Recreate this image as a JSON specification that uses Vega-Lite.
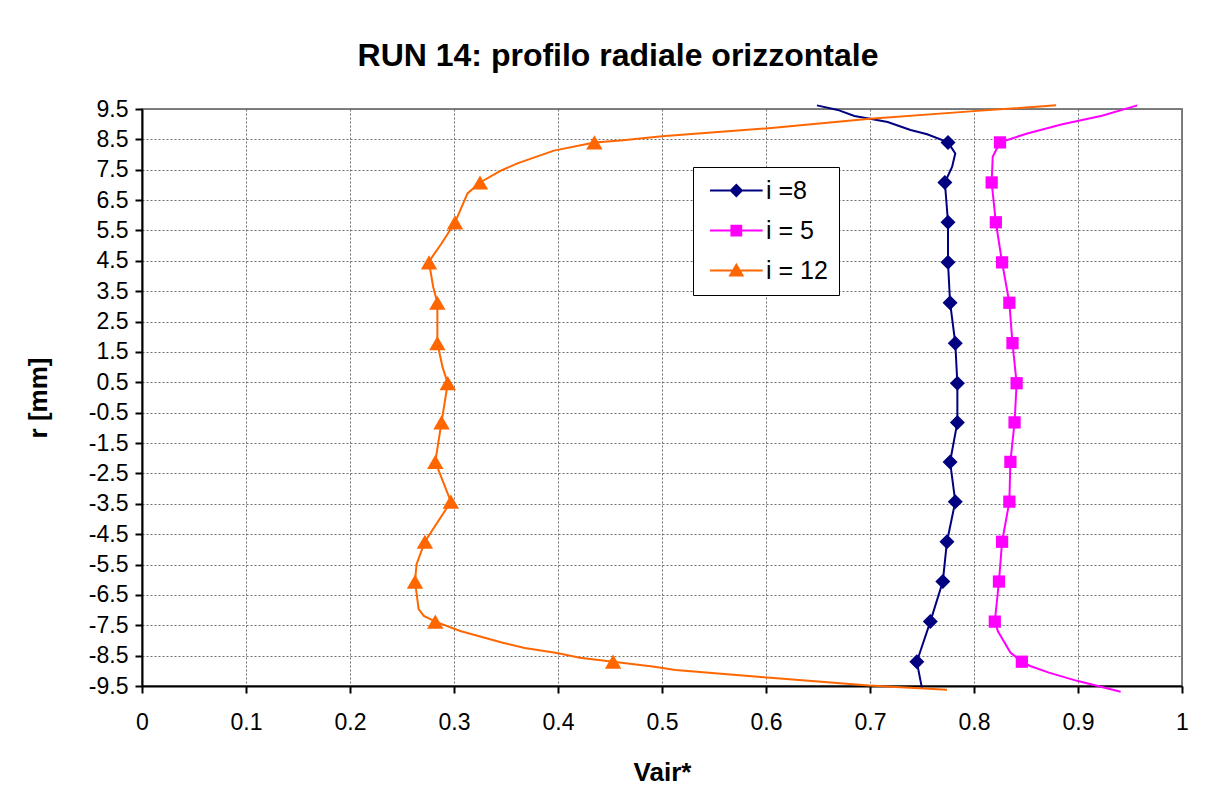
{
  "$schema": "https://vega.github.io/schema/vega-lite/v6.json",
  "autosize": "none",
  "width": 1040,
  "height": 577,
  "padding": {"left": 142, "top": 109, "right": 38, "bottom": 122},
  "background": "white",
  "title": {
    "text": "RUN 14: profilo radiale orizzontale",
    "font": "Liberation Sans",
    "fontSize": 32,
    "fontWeight": "bold",
    "color": "black",
    "anchor": "middle",
    "frame": "group",
    "dx": -44,
    "offset": 25
  },
  "data": {
    "values": [
      {"s": "i =8", "r": 9.62, "v": 0.649, "m": 0},
      {"s": "i =8", "r": 9.47, "v": 0.669, "m": 0},
      {"s": "i =8", "r": 9.27, "v": 0.685, "m": 0},
      {"s": "i =8", "r": 9.18, "v": 0.7, "m": 0},
      {"s": "i =8", "r": 9.07, "v": 0.717, "m": 0},
      {"s": "i =8", "r": 8.81, "v": 0.739, "m": 0},
      {"s": "i =8", "r": 8.67, "v": 0.755, "m": 0},
      {"s": "i =8", "r": 8.4, "v": 0.775, "m": 1},
      {"s": "i =8", "r": 8.04, "v": 0.782, "m": 0},
      {"s": "i =8", "r": 7.6, "v": 0.779, "m": 0},
      {"s": "i =8", "r": 7.08, "v": 0.772, "m": 1},
      {"s": "i =8", "r": 5.77, "v": 0.775, "m": 1},
      {"s": "i =8", "r": 4.45, "v": 0.775, "m": 1},
      {"s": "i =8", "r": 3.12, "v": 0.777, "m": 1},
      {"s": "i =8", "r": 1.79, "v": 0.782, "m": 1},
      {"s": "i =8", "r": 0.47, "v": 0.784, "m": 1},
      {"s": "i =8", "r": -0.82, "v": 0.784, "m": 1},
      {"s": "i =8", "r": -2.12, "v": 0.777, "m": 1},
      {"s": "i =8", "r": -3.43, "v": 0.782, "m": 1},
      {"s": "i =8", "r": -4.75, "v": 0.774, "m": 1},
      {"s": "i =8", "r": -6.06, "v": 0.77, "m": 1},
      {"s": "i =8", "r": -7.38, "v": 0.758, "m": 1},
      {"s": "i =8", "r": -8.7, "v": 0.745, "m": 1},
      {"s": "i =8", "r": -9.58, "v": 0.75, "m": 0},

      {"s": "i = 5", "r": 9.62, "v": 0.957, "m": 0},
      {"s": "i = 5", "r": 9.28, "v": 0.923, "m": 0},
      {"s": "i = 5", "r": 9.0, "v": 0.885, "m": 0},
      {"s": "i = 5", "r": 8.7, "v": 0.852, "m": 0},
      {"s": "i = 5", "r": 8.48, "v": 0.832, "m": 0},
      {"s": "i = 5", "r": 8.4, "v": 0.825, "m": 1},
      {"s": "i = 5", "r": 7.93, "v": 0.818, "m": 0},
      {"s": "i = 5", "r": 7.08, "v": 0.817, "m": 1},
      {"s": "i = 5", "r": 5.77, "v": 0.821, "m": 1},
      {"s": "i = 5", "r": 4.45, "v": 0.827, "m": 1},
      {"s": "i = 5", "r": 3.12, "v": 0.834, "m": 1},
      {"s": "i = 5", "r": 1.79, "v": 0.837, "m": 1},
      {"s": "i = 5", "r": 0.47, "v": 0.841, "m": 1},
      {"s": "i = 5", "r": -0.82, "v": 0.839, "m": 1},
      {"s": "i = 5", "r": -2.12, "v": 0.835, "m": 1},
      {"s": "i = 5", "r": -3.43, "v": 0.834, "m": 1},
      {"s": "i = 5", "r": -4.75, "v": 0.827, "m": 1},
      {"s": "i = 5", "r": -6.06, "v": 0.824, "m": 1},
      {"s": "i = 5", "r": -7.38, "v": 0.82, "m": 1},
      {"s": "i = 5", "r": -7.7, "v": 0.823, "m": 0},
      {"s": "i = 5", "r": -8.4, "v": 0.835, "m": 0},
      {"s": "i = 5", "r": -8.7, "v": 0.846, "m": 1},
      {"s": "i = 5", "r": -8.84, "v": 0.854, "m": 0},
      {"s": "i = 5", "r": -9.06, "v": 0.872, "m": 0},
      {"s": "i = 5", "r": -9.33, "v": 0.899, "m": 0},
      {"s": "i = 5", "r": -9.5, "v": 0.919, "m": 0},
      {"s": "i = 5", "r": -9.69, "v": 0.941, "m": 0},

      {"s": "i = 12", "r": 9.62, "v": 0.879, "m": 0},
      {"s": "i = 12", "r": 9.43, "v": 0.8, "m": 0},
      {"s": "i = 12", "r": 9.18, "v": 0.7, "m": 0},
      {"s": "i = 12", "r": 8.86, "v": 0.6, "m": 0},
      {"s": "i = 12", "r": 8.6, "v": 0.5, "m": 0},
      {"s": "i = 12", "r": 8.46, "v": 0.46, "m": 0},
      {"s": "i = 12", "r": 8.4, "v": 0.435, "m": 1},
      {"s": "i = 12", "r": 8.13, "v": 0.396, "m": 0},
      {"s": "i = 12", "r": 7.71, "v": 0.361, "m": 0},
      {"s": "i = 12", "r": 7.47, "v": 0.345, "m": 0},
      {"s": "i = 12", "r": 7.08, "v": 0.325, "m": 1},
      {"s": "i = 12", "r": 6.72, "v": 0.313, "m": 0},
      {"s": "i = 12", "r": 5.77, "v": 0.301, "m": 1},
      {"s": "i = 12", "r": 5.07, "v": 0.288, "m": 0},
      {"s": "i = 12", "r": 4.58, "v": 0.278, "m": 0},
      {"s": "i = 12", "r": 4.45, "v": 0.276, "m": 1},
      {"s": "i = 12", "r": 3.64, "v": 0.28, "m": 0},
      {"s": "i = 12", "r": 3.12, "v": 0.284, "m": 1},
      {"s": "i = 12", "r": 1.79, "v": 0.284, "m": 1},
      {"s": "i = 12", "r": 1.0, "v": 0.289, "m": 0},
      {"s": "i = 12", "r": 0.47, "v": 0.294, "m": 1},
      {"s": "i = 12", "r": -0.82, "v": 0.288, "m": 1},
      {"s": "i = 12", "r": -2.12, "v": 0.282, "m": 1},
      {"s": "i = 12", "r": -3.43, "v": 0.297, "m": 1},
      {"s": "i = 12", "r": -4.75, "v": 0.272, "m": 1},
      {"s": "i = 12", "r": -5.49, "v": 0.264, "m": 0},
      {"s": "i = 12", "r": -6.06, "v": 0.2625, "m": 1},
      {"s": "i = 12", "r": -6.97, "v": 0.266, "m": 0},
      {"s": "i = 12", "r": -7.19, "v": 0.271, "m": 0},
      {"s": "i = 12", "r": -7.38, "v": 0.282, "m": 1},
      {"s": "i = 12", "r": -7.69, "v": 0.306, "m": 0},
      {"s": "i = 12", "r": -7.88, "v": 0.326, "m": 0},
      {"s": "i = 12", "r": -8.07, "v": 0.346, "m": 0},
      {"s": "i = 12", "r": -8.25, "v": 0.368, "m": 0},
      {"s": "i = 12", "r": -8.41, "v": 0.399, "m": 0},
      {"s": "i = 12", "r": -8.57, "v": 0.421, "m": 0},
      {"s": "i = 12", "r": -8.7, "v": 0.453, "m": 1},
      {"s": "i = 12", "r": -8.86, "v": 0.491, "m": 0},
      {"s": "i = 12", "r": -8.97, "v": 0.513, "m": 0},
      {"s": "i = 12", "r": -9.21, "v": 0.598, "m": 0},
      {"s": "i = 12", "r": -9.48, "v": 0.699, "m": 0},
      {"s": "i = 12", "r": -9.62, "v": 0.774, "m": 0}
    ]
  },
  "encoding": {
    "x": {
      "field": "v", "type": "quantitative",
      "scale": {"domain": [0, 1], "nice": false, "zero": false},
      "axis": {
        "title": "Vair*",
        "values": [0, 0.1, 0.2, 0.3, 0.4, 0.5, 0.6, 0.7, 0.8, 0.9, 1],
        "format": ".1~f",
        "labelPadding": 18,
        "titlePadding": 25
      }
    },
    "y": {
      "field": "r", "type": "quantitative",
      "scale": {"domain": [-9.5, 9.5], "nice": false, "zero": false},
      "axis": {
        "title": "r [mm]",
        "values": [-9.5, -8.5, -7.5, -6.5, -5.5, -4.5, -3.5, -2.5, -1.5, -0.5, 0.5, 1.5, 2.5, 3.5, 4.5, 5.5, 6.5, 7.5, 8.5, 9.5],
        "format": ".1f",
        "labelExpr": "replace(datum.label, '\u2212', '-')",
        "labelPadding": 7,
        "titlePadding": 37
      }
    }
  },
  "layer": [
    {
      "mark": {"type": "line", "clip": false},
      "encoding": {
        "color": {
          "field": "s", "type": "nominal",
          "scale": {"domain": ["i =8", "i = 5", "i = 12"], "range": ["#000080", "#FF00FF", "#FF6600"]},
          "legend": null
        },
        "strokeWidth": {
          "field": "s", "type": "nominal",
          "scale": {"domain": ["i =8", "i = 5", "i = 12"], "range": [2, 2, 2.5]},
          "legend": null
        },
        "order": {"field": "r", "sort": "descending"}
      }
    },
    {
      "transform": [{"filter": "datum.m == 1 && datum.s == 'i =8'"}],
      "mark": {"type": "point", "filled": true, "opacity": 1, "clip": false, "shape": "diamond", "size": 225, "color": "#000080"}
    },
    {
      "transform": [{"filter": "datum.m == 1 && datum.s == 'i = 5'"}],
      "mark": {"type": "point", "filled": true, "opacity": 1, "clip": false, "shape": "square", "size": 150, "color": "#FF00FF"}
    },
    {
      "transform": [{"filter": "datum.m == 1 && datum.s == 'i = 12'"}],
      "mark": {"type": "point", "filled": true, "opacity": 1, "clip": false, "shape": "triangle-up", "size": 270, "color": "#FF6600"}
    },
    {
      "transform": [{"filter": "datum.m == 99"}],
      "mark": {"type": "point", "filled": true, "opacity": 1, "strokeWidth": 2},
      "encoding": {
        "shape": {
          "field": "s", "type": "nominal",
          "scale": {
            "domain": ["i =8", "i = 5", "i = 12"],
            "range": [
              "M-1,0H7.1M3.05,-0.85L3.9,0L3.05,0.85L2.2,0Z",
              "M-1,0H7.1M2.3,-0.75H3.8V0.75H2.3Z",
              "M-1,0H7.1M3.05,-0.9L4.0,0.75L2.1,0.75Z"
            ]
          },
          "legend": {
            "title": null,
            "orient": "none",
            "legendX": 551,
            "legendY": 58,
            "symbolSize": 169,
            "symbolStrokeWidth": 2,
            "labelFont": "Liberation Sans",
            "labelFontSize": 25,
            "labelColor": "black",
            "labelOffset": 37,
            "padding": 11,
            "rowPadding": 14,
            "strokeColor": "black",
            "fillColor": "white"
          }
        },
        "fill": {
          "field": "s", "type": "nominal",
          "scale": {"domain": ["i =8", "i = 5", "i = 12"], "range": ["#000080", "#FF00FF", "#FF6600"]}
        },
        "stroke": {
          "field": "s", "type": "nominal",
          "scale": {"domain": ["i =8", "i = 5", "i = 12"], "range": ["#000080", "#FF00FF", "#FF6600"]}
        }
      }
    }
  ],
  "resolve": {"scale": {"shape": "independent", "color": "independent", "fill": "independent", "stroke": "independent", "strokeWidth": "independent"}},
  "config": {
    "font": "Liberation Sans",
    "view": {"stroke": "#808080", "strokeWidth": 2},
    "axis": {
      "labelFont": "Liberation Sans",
      "labelFontSize": 23,
      "labelColor": "black",
      "titleFont": "Liberation Sans",
      "titleFontSize": 26,
      "titleFontWeight": "bold",
      "titleColor": "black",
      "domainColor": "black",
      "domainWidth": 2,
      "tickColor": "black",
      "tickWidth": 2,
      "tickSize": 7,
      "grid": true,
      "gridColor": "#6f6f6f",
      "gridWidth": 1,
      "gridDash": [2, 2],
      "labelOverlap": false,
      "labelBound": false,
      "labelFlush": false
    },
    "legend": {"symbolStrokeWidth": 2}
  }
}
